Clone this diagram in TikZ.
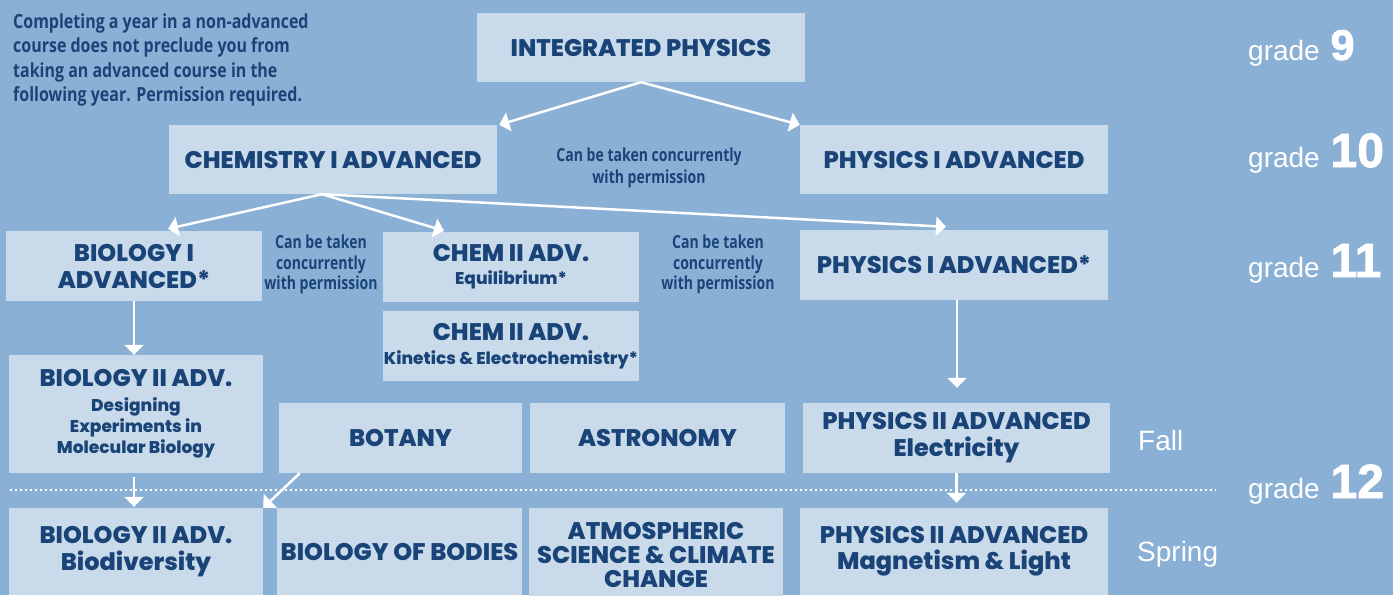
\documentclass[tikz,border=0pt]{standalone}
\usepackage{fontspec}
\IfFontExistsTF{Poppins ExtraBold}
  {\setmainfont{Poppins}[BoldFont={Poppins ExtraBold}]}
  {\setmainfont{Poppins}[BoldFeatures={FakeBold=1}]}
\newfontfamily\notefont{Open Sans}[FakeStretch=0.78]
\newfontfamily\topnotefont{Open Sans}[FakeStretch=0.82]
\newfontfamily\gradefont{Liberation Sans}
\newfontfamily\numfont{Liberation Sans}[BoldFeatures={FakeBold=1.8}]
\usetikzlibrary{arrows.meta}
\definecolor{bg}{RGB}{138,176,214}
\definecolor{boxc}{RGB}{201,219,235}
\definecolor{navy}{RGB}{26,68,120}
\newcommand\ttl{\fontsize{24}{27}\selectfont\bfseries}
\newcommand\sbt{\fontsize{17}{21}\selectfont\bfseries}
\newcommand\notesz{\notefont\bfseries\fontsize{18}{21.5}\selectfont}
\newcommand\gradetxt{\gradefont\fontsize{28}{28}\selectfont}
\newcommand\gradenum{\hspace{3pt}\numfont\bfseries\fontsize{48}{48}\selectfont}
\begin{document}
\begin{tikzpicture}[x=1pt,y=-1pt,
  box/.style={fill=boxc, inner sep=0pt, align=center, text=navy, font=\ttl},
  sz/.style 2 args={minimum width=#1pt, minimum height=#2pt},
  note/.style={inner sep=0pt, align=center, text=navy, font=\notesz},
  arr/.style={draw=white, line width=2.5pt, -{Triangle[width=19pt,length=10pt]}},
  gradelbl/.style={inner sep=0pt, anchor=base west, text=white}]
\fill[bg] (0,0) rectangle (1393,595);
\useasboundingbox (0,0) rectangle (1393,595);

% note top left
\node[inner sep=0pt, anchor=north west, align=left, text=navy,
      font=\topnotefont\bfseries\fontsize{19.5}{24.3}\selectfont] (topnote) at (13,13.5)
  {Completing a year in a non-advanced\\course does not preclude you from\\taking an advanced course in the\\following year. Permission required.};

% boxes
\node[box, sz={328}{69}] (ip) at (641,47.5) {INTEGRATED PHYSICS};
\node[box, sz={328}{69}] (chem1) at (333,159.5) {CHEMISTRY I ADVANCED};
\node[box, sz={308}{69}] (phys1) at (954,159.5) {PHYSICS I ADVANCED};
\node[box, sz={256}{70}] (bio1) at (134,266) {BIOLOGY I\\ADVANCED*};
\node[box, sz={256}{70}] (chemeq) at (511,267) {\ttl CHEM II ADV.\\[-4pt]\sbt Equilibrium*};
\node[box, sz={308}{70}] (phys11) at (954,265) {PHYSICS I ADVANCED*};
\node[box, sz={256}{70}] (chemkin) at (511,346) {\ttl CHEM II ADV.\\[-3pt]\sbt Kinetics \& Electrochemistry*};
\node[box, sz={254}{118}] (bio2d) at (136,414) {\ttl BIOLOGY II ADV.\\[-2pt]\sbt Designing\\[-6pt]\sbt Experiments in\\[-6pt]\sbt Molecular Biology};
\node[box, sz={243}{70}] (botany) at (400.5,438) {BOTANY};
\node[box, sz={255}{70}] (astro) at (657.5,438) {ASTRONOMY};
\node[box, sz={307}{70}] (phys2e) at (956.5,438) {PHYSICS II ADVANCED\\Electricity};
\node[box, sz={254}{87}] (biodiv) at (136,551.5) {BIOLOGY II ADV.\\Biodiversity};
\node[box, sz={245}{87}] (bodies) at (399.5,551.5) {BIOLOGY OF BODIES};
\node[box, sz={254}{93}] (atmos) at (656,554.5) {ATMOSPHERIC\\[-3pt]SCIENCE \& CLIMATE\\[-3pt]CHANGE};
\node[box, sz={308}{87}] (phys2m) at (954,551.5) {PHYSICS II ADVANCED\\[-1pt]Magnetism \& Light};

% notes
\node[note] (conc10) at (649,168) {Can be taken concurrently\\with permission};
\node[note] (conc11a) at (321,264.5) {Can be taken\\[-1pt]concurrently\\[-1pt]with permission};
\node[note] (conc11b) at (718,264.5) {Can be taken\\[-1pt]concurrently\\[-1pt]with permission};

% dotted line
\coordinate (dl) at (10,490);
\coordinate (dr) at (1216,490);
\draw[white, line width=2pt, dash pattern=on 2pt off 3pt] (dl) -- (dr);

% arrows
\draw[arr] (ip.south) -- ([xshift=2pt]chem1.north east);
\draw[arr] (ip.south) -- (phys1.north west);
\draw[arr] ([xshift=-11pt]chem1.south) -- ([xshift=34pt,yshift=2pt]bio1.north);
\draw[arr] ([xshift=-11pt]chem1.south) -- ([xshift=-67pt,yshift=1pt]chemeq.north);
\draw[arr] ([xshift=-11pt]chem1.south) -- ([xshift=-8pt,yshift=3pt]phys11.north);
\draw[arr] (bio1.south) -- (bio1.south |- bio2d.north);
\draw[arr] ([xshift=3pt]phys11.south) -- ([xshift=3pt,yshift=15pt]phys11.south |- phys2e.north);
\draw[arr] (phys2e.south) -- ([yshift=5pt]phys2e.south |- phys2m.north);
\draw[arr] ([yshift=-4pt]bio1.south |- bio2d.south) -- ([yshift=1pt]bio1.south |- biodiv.north);
\draw[arr] ([xshift=21pt]botany.south west) -- (biodiv.north east);

% grade labels
\node[gradelbl] (g9) at (1248,60) {\gradetxt grade \gradenum\fontsize{43}{43}\selectfont 9};
\node[gradelbl] (g10) at (1248,167) {\gradetxt grade \gradenum 10};
\node[gradelbl] (g11) at (1248,277) {\gradetxt grade \gradenum 11};
\node[gradelbl] (g12) at (1248,498) {\gradetxt grade \gradenum 12};
\node[gradelbl] (fall) at (1138,450) {\gradetxt Fall};
\node[gradelbl] (spring) at (1137,561) {\gradetxt Spring};
\end{tikzpicture}
\end{document}
